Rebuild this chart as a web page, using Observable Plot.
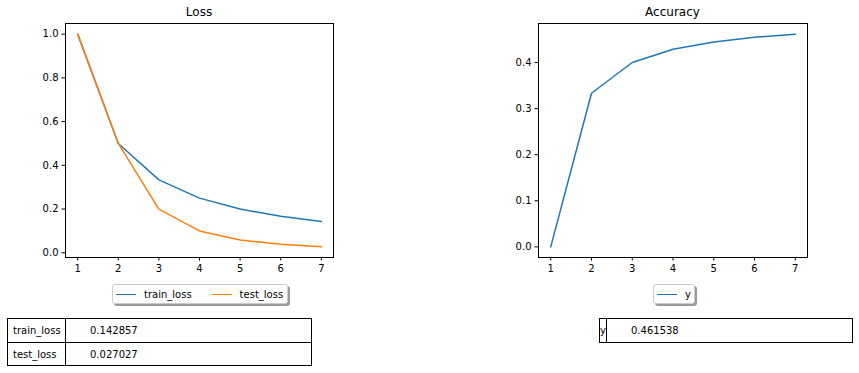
<!DOCTYPE html>
<html>
<head>
<meta charset="utf-8">
<script src="https://cdn.jsdelivr.net/npm/d3@7"></script>
<script src="https://cdn.jsdelivr.net/npm/@observablehq/plot@0.6"></script>
<style>
  html, body { margin: 0; padding: 0; background: #fff; }
  #root { position: relative; width: 859px; height: 373px; font-family: "DejaVu Sans", sans-serif; color: #000; overflow: hidden; }
  .abs { position: absolute; }
  .title { font-size: 12px; text-align: center; white-space: nowrap; }
  .legend { border: 1px solid #ccc; border-radius: 3px; background: #fff; box-shadow: 2px 2px 0 #999; display: flex; align-items: center; font-size: 10px; box-sizing: border-box; }
  .legend .sw { display: inline-block; width: 20px; height: 0; border-top: 1.5px solid; margin-right: 8px; }
  .legend .item { display: flex; align-items: center; white-space: nowrap; }
  table.tbl { position: absolute; border-collapse: collapse; font-size: 10px; table-layout: fixed; }
  table.tbl td { border: 1px solid #000; padding: 0; height: 22.7px; vertical-align: middle; white-space: nowrap; overflow: hidden; }
</style>
</head>
<body>
<div id="root"></div>
<script>
// ---- data ----
const epochs = [1, 2, 3, 4, 5, 6, 7];
const trainLoss = [1.0, 0.5, 0.333333, 0.25, 0.2, 0.166667, 0.142857];
const testLoss = [1.0, 0.5, 0.2, 0.1, 0.058824, 0.038462, 0.027027];
const accuracy = [0.0, 0.333333, 0.4, 0.428571, 0.444444, 0.454545, 0.461538];
const lossSeries = ["train_loss", "test_loss"];
const accSeries = ["y"];
const lossTicks = [0.0, 0.2, 0.4, 0.6, 0.8, 1.0];
const accTicks = [0.0, 0.1, 0.2, 0.3, 0.4];
const lossTableLabels = ["train_loss", "test_loss"];
const lossTableValues = ["0.142857", "0.027027"];
const accTableLabels = ["y"];
const accTableValues = ["0.461538"];
const colors = ["#1f77b4", "#ff7f0e"];

const root = document.getElementById("root");

function pad(lo, hi) { const m = (hi - lo) * 0.05; return [lo - m, hi + m]; }

const lossData = epochs.flatMap((e, i) => [
  {epoch: e, value: trainLoss[i], series: lossSeries[0]},
  {epoch: e, value: testLoss[i], series: lossSeries[1]}
]);
const accData = epochs.map((e, i) => ({epoch: e, value: accuracy[i], series: accSeries[0]}));

const common = {
  style: {fontFamily: "DejaVu Sans", fontSize: "10px", background: "none", overflow: "visible", color: "#000"}
};

function makePlot(data, opts) {
  const ys = data.map(d => d.value);
  return Plot.plot({
    ...common,
    width: opts.width, height: 276,
    marginLeft: opts.ml, marginRight: opts.mr, marginTop: 23, marginBottom: 19,
    x: {domain: pad(1, 7), ticks: epochs, tickFormat: "d", label: null, tickSize: 3.5, tickPadding: 3.5},
    y: {domain: pad(d3.min(ys), d3.max(ys)), ticks: opts.ticks, tickFormat: ".1f", label: null, tickSize: 3.5, tickPadding: 3.5},
    color: {domain: opts.series, range: colors},
    marks: [
      Plot.frame({stroke: "#000", strokeWidth: 1}),
      Plot.lineY(data, {x: "epoch", y: "value", stroke: "series", strokeWidth: 1.5})
    ]
  });
}

function place(el, left, top) {
  el.classList.add("abs");
  el.style.left = left + "px";
  el.style.top = top + "px";
  root.appendChild(el);
  return el;
}

// Loss plot
const p1 = makePlot(lossData, {width: 340, ml: 65, mr: 7, ticks: lossTicks, series: lossSeries});
place(p1, 0, 0);
// Accuracy plot
const p2 = makePlot(accData, {width: 320, ml: 38, mr: 13, ticks: accTicks, series: accSeries});
place(p2, 500, 0);

function title(text, cx) {
  const d = document.createElement("div");
  d.className = "title";
  d.textContent = text;
  d.style.width = "200px";
  place(d, cx - 100, 5);
}
title("Loss", 199);
title("Accuracy", 672.5);

function legend(series, left, width, gaps) {
  const d = document.createElement("div");
  d.className = "legend";
  d.style.width = width + "px";
  d.style.height = "20px";
  d.style.paddingLeft = "3px";
  series.forEach((s, i) => {
    const it = document.createElement("div");
    it.className = "item";
    if (i > 0) it.style.marginLeft = gaps + "px";
    const sw = document.createElement("span");
    sw.className = "sw";
    sw.style.borderTopColor = colors[i];
    const t = document.createElement("span");
    t.textContent = s;
    it.appendChild(sw); it.appendChild(t);
    d.appendChild(it);
  });
  place(d, left, 284);
}
legend(lossSeries, 112, 176, 20);
legend(accSeries, 653, 42, 0);

function table(labels, values, left, width, col1, valIndent) {
  const t = document.createElement("table");
  t.className = "tbl";
  t.style.width = width + "px";
  const cg = document.createElement("colgroup");
  const c1 = document.createElement("col"); c1.style.width = col1 + "px";
  const c2 = document.createElement("col");
  cg.appendChild(c1); cg.appendChild(c2); t.appendChild(cg);
  labels.forEach((l, i) => {
    const tr = document.createElement("tr");
    const a = document.createElement("td"); a.textContent = l; a.style.paddingLeft = col1 > 20 ? "5px" : "0px";
    const b = document.createElement("td"); b.textContent = values[i]; b.style.paddingLeft = valIndent + "px";
    tr.appendChild(a); tr.appendChild(b); t.appendChild(tr);
  });
  t.style.left = left + "px";
  t.style.top = "318px";
  root.appendChild(t);
}
table(lossTableLabels, lossTableValues, 7, 305, 58, 24);
table(accTableLabels, accTableValues, 599, 254, 7, 24);
</script>
</body>
</html>
